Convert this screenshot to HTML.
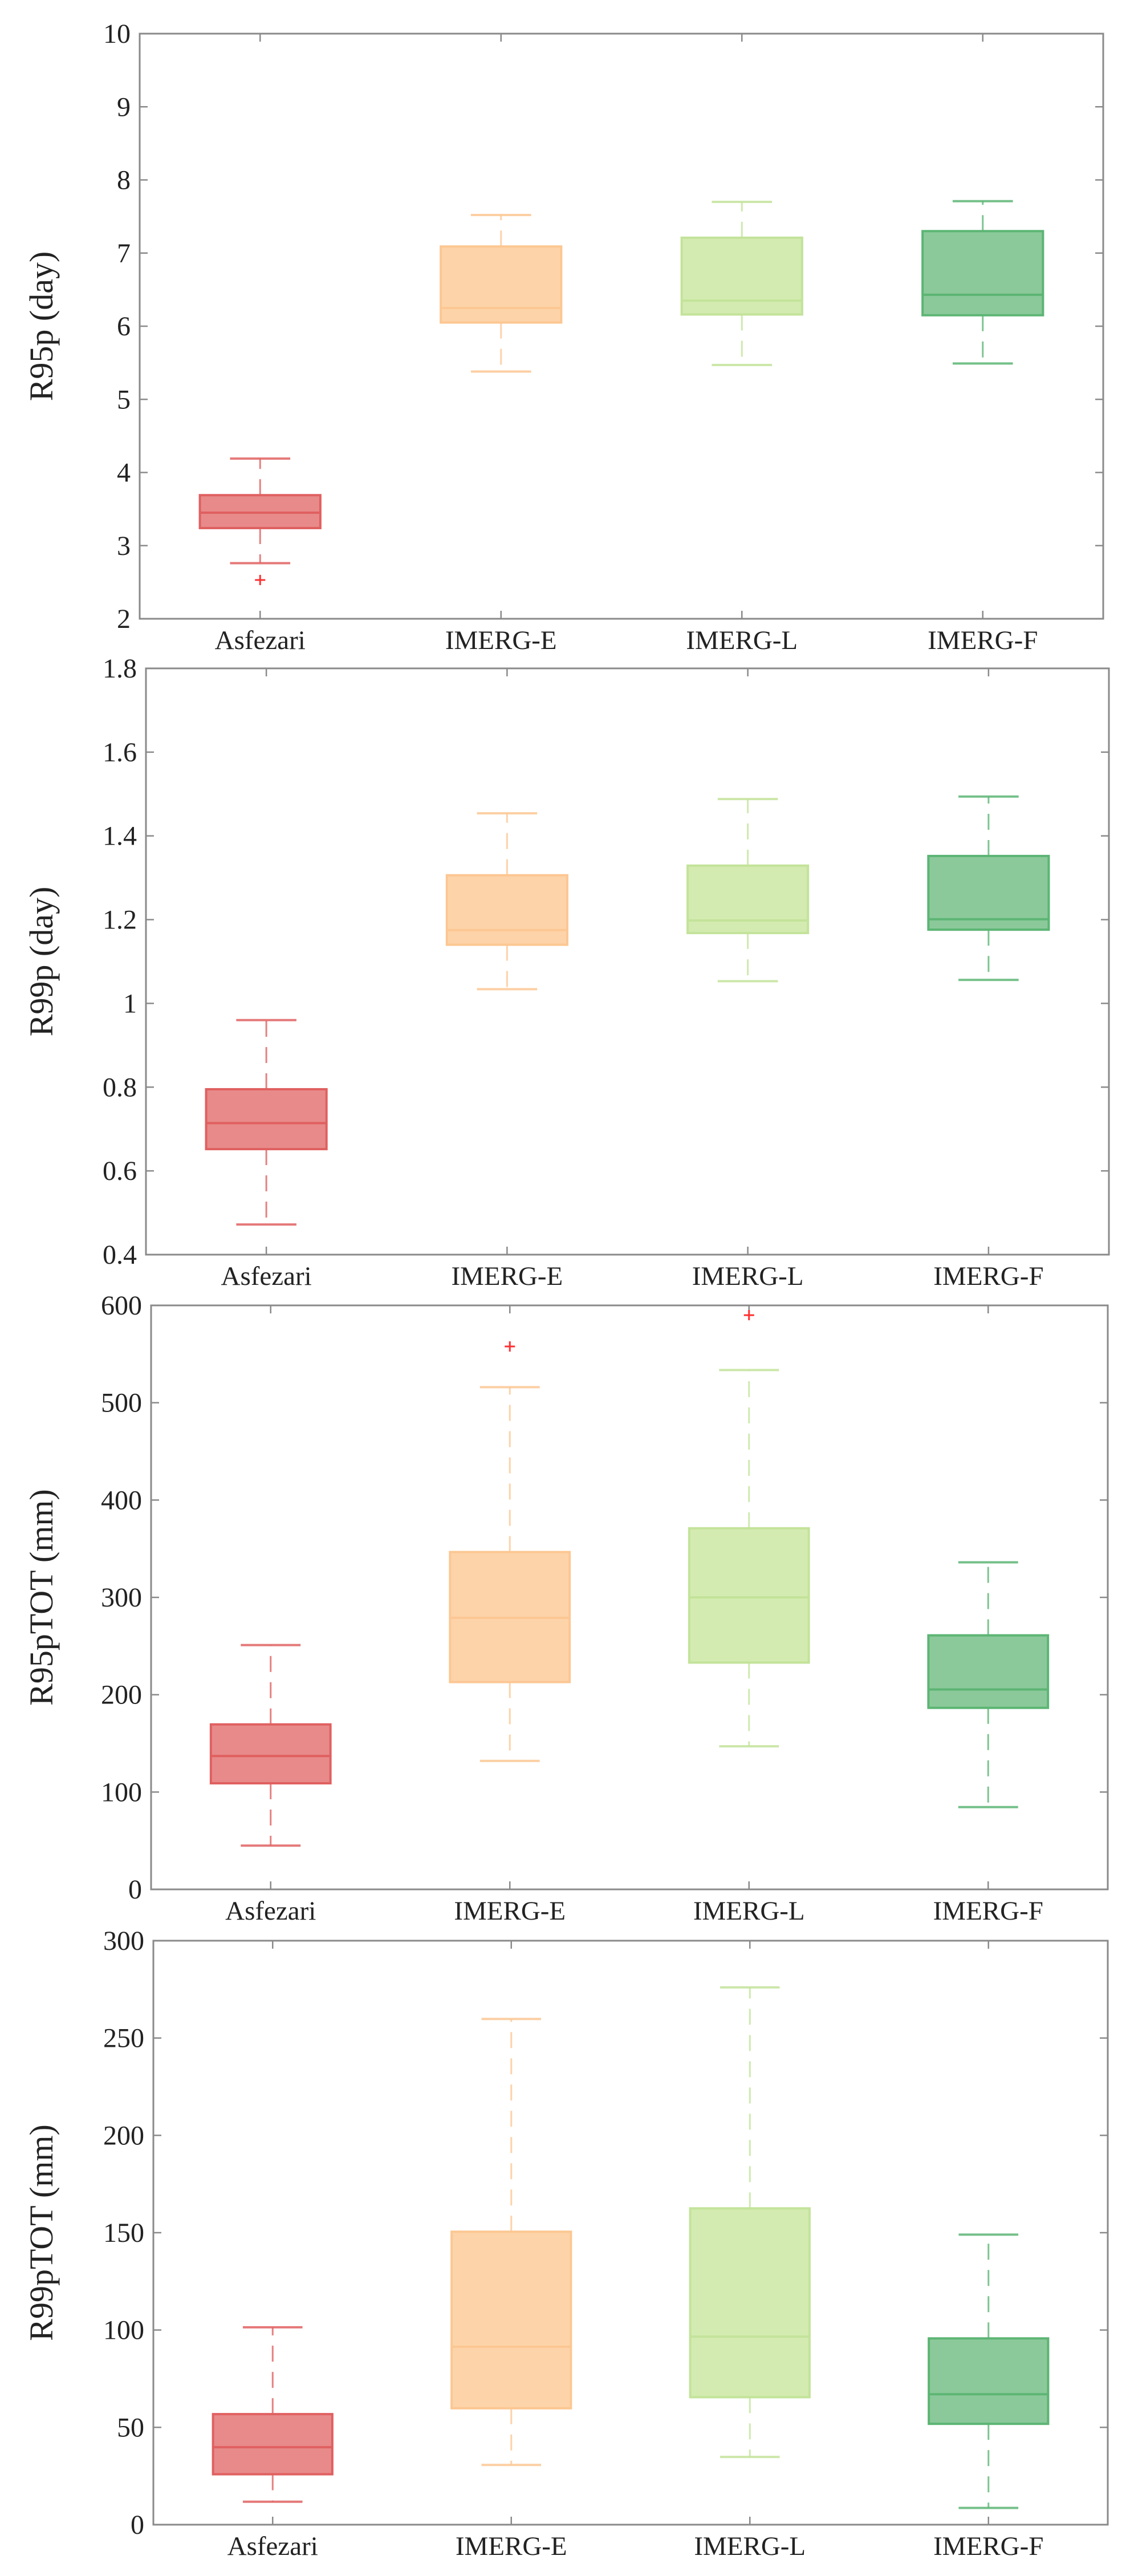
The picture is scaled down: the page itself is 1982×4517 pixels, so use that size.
<!DOCTYPE html>
<html><head><meta charset="utf-8">
<style>
html,body{margin:0;padding:0;background:#fff;}
svg{display:block;}
text{font-family:"Liberation Serif",serif;fill:#222;}
</style></head>
<body>
<svg id="chart" width="1982" height="4517" xmlns="http://www.w3.org/2000/svg"></svg>
<script>
// Categories
const categories = ["Asfezari","IMERG-E","IMERG-L","IMERG-F"];
// Panel metadata
const panelTitles = ["R95p (day)","R99p (day)","R95pTOT (mm)","R99pTOT (mm)"];
const yMins = [2, 0.4, 0, 0];
const yMaxs = [10, 1.8, 600, 300];
const yTicks1 = ["2","3","4","5","6","7","8","9","10"];
const yTicks2 = ["0.4","0.6","0.8","1","1.2","1.4","1.6","1.8"];
const yTicks3 = ["0","100","200","300","400","500","600"];
const yTicks4 = ["0","50","100","150","200","250","300"];
// Box statistics per panel: [lowWhisker, Q1, median, Q3, highWhisker] per category
const stats1 = [[2.76,3.24,3.45,3.69,4.19],[5.38,6.05,6.25,7.09,7.52],[5.47,6.16,6.35,7.21,7.70],[5.49,6.15,6.43,7.30,7.71]];
const stats2 = [[0.472,0.652,0.714,0.795,0.96],[1.034,1.14,1.175,1.306,1.454],[1.053,1.168,1.198,1.329,1.488],[1.056,1.176,1.201,1.352,1.494]];
const stats3 = [[45,109,137,169.5,251],[132,213,279,346.6,516],[147,233,300,371,533.6],[84.5,186.5,205.4,261,336]];
const stats4 = [[11.8,25.9,39.8,56.8,101.4],[30.7,59.8,91.4,150.5,259.8],[34.8,65.5,96.6,162.5,276],[8.6,51.8,67,95.7,149]];
// Outliers per panel: [categoryIndex, value]
const outliers1 = [[0,2.53]];
const outliers2 = [];
const outliers3 = [[1,557.8],[2,590]];
const outliers4 = [];

const tickSets=[yTicks1,yTicks2,yTicks3,yTicks4];
const statSets=[stats1,stats2,stats3,stats4];
const outSets=[outliers1,outliers2,outliers3,outliers4];
const geom=[{l:245,r:1935,t:59,b:1085},{l:256,r:1945,t:1172,b:2200},{l:265,r:1943,t:2289,b:3313},{l:269,r:1943,t:3403,b:4427}];
const fills=["#e88a8a","#fdd4a9","#d3ebb0","#8bc99a"];
const strokes=["#e06060","#fcc793","#c3e39a","#5cb574"];

const NS="http://www.w3.org/2000/svg";
const svg=document.getElementById("chart");
function mk(tag,attrs,parent){const e=document.createElementNS(NS,tag);for(const k in attrs)e.setAttribute(k,attrs[k]);(parent||svg).appendChild(e);return e;}

geom.forEach((g,p)=>{
  const grp=mk("g",{});
  
  
  const xs=i=>g.l+(i+1-0.5)/4*(g.r-g.l);
  const ys=v=>g.b-(v-yMins[p])/(yMaxs[p]-yMins[p])*(g.b-g.t);
  const unit=(g.r-g.l)/4;
  // axes box
  const frame=mk("rect",{x:g.l,y:g.t,width:g.r-g.l,height:g.b-g.t,fill:"none",stroke:"#8a8a8a","stroke-width":3},grp);
  
  
  // y ticks
  tickSets[p].forEach(lbl=>{
    const y=ys(parseFloat(lbl));
    mk("line",{x1:g.l,x2:g.l+14,y1:y,y2:y,stroke:"#8a8a8a","stroke-width":2.5},grp);
    mk("line",{x1:g.r-14,x2:g.r,y1:y,y2:y,stroke:"#8a8a8a","stroke-width":2.5},grp);
    const t=mk("text",{x:g.l-16,y:y+16,"text-anchor":"end","font-size":48},grp);
    t.textContent=lbl;
    
    
  });
  // y title
  const cy=(g.t+g.b)/2;
  const yt=mk("text",{x:0,y:0,"text-anchor":"middle","font-size":58,transform:`translate(92,${cy}) rotate(-90)`},grp);
  yt.textContent=panelTitles[p];
  
  
  categories.forEach((c,i)=>{
    const x=xs(i);
    mk("line",{x1:x,x2:x,y1:g.b,y2:g.b-14,stroke:"#8a8a8a","stroke-width":2.5},grp);
    mk("line",{x1:x,x2:x,y1:g.t,y2:g.t+14,stroke:"#8a8a8a","stroke-width":2.5},grp);
    const xl=mk("text",{x:x,y:g.b+53,"text-anchor":"middle","font-size":47},grp);
    xl.textContent=c;
    
    
    const s=statSets[p][i];
    const bw=unit*0.25, cw=unit*0.125;
    const bg=mk("g",{},grp);
    
    
    // whiskers
    mk("line",{x1:x,x2:x,y1:ys(s[3]),y2:ys(s[4]),stroke:strokes[i],"stroke-width":3,"stroke-dasharray":"28 18","stroke-opacity":0.8},bg);
    mk("line",{x1:x,x2:x,y1:ys(s[1]),y2:ys(s[0]),stroke:strokes[i],"stroke-width":3,"stroke-dasharray":"28 18","stroke-opacity":0.8},bg);
    mk("line",{x1:x-cw,x2:x+cw,y1:ys(s[4]),y2:ys(s[4]),stroke:strokes[i],"stroke-width":4,"stroke-opacity":0.85},bg);
    mk("line",{x1:x-cw,x2:x+cw,y1:ys(s[0]),y2:ys(s[0]),stroke:strokes[i],"stroke-width":4,"stroke-opacity":0.85},bg);
    // box
    mk("rect",{x:x-bw,y:ys(s[3]),width:2*bw,height:ys(s[1])-ys(s[3]),fill:fills[i],stroke:strokes[i],"stroke-width":4},bg);
    // median
    mk("line",{x1:x-bw,x2:x+bw,y1:ys(s[2]),y2:ys(s[2]),stroke:strokes[i],"stroke-width":4},bg);
  });
  outSets[p].forEach(o=>{
    const x=xs(o[0]), y=ys(o[1]);
    const og=mk("g",{},grp);
    
    
    mk("line",{x1:x-9,x2:x+9,y1:y,y2:y,stroke:"#ff3030","stroke-width":3},og);
    mk("line",{x1:x,x2:x,y1:y-9,y2:y+9,stroke:"#ff3030","stroke-width":3},og);
  });
});
</script>
</body></html>
